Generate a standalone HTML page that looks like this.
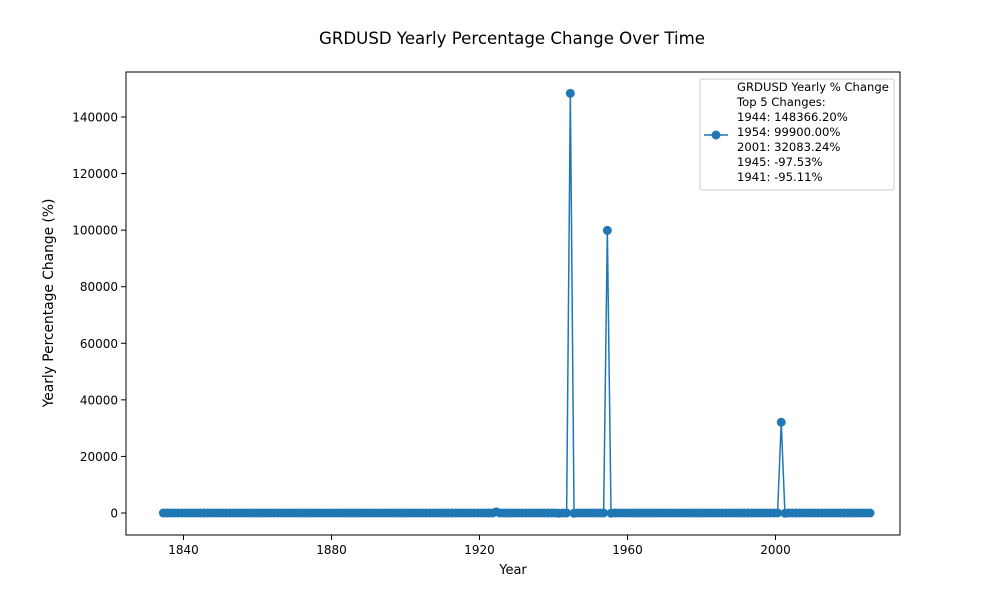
<!DOCTYPE html>
<html><head><meta charset="utf-8"><style>
body{margin:0;background:#fff;font-family:"Liberation Sans","DejaVu Sans",sans-serif}
svg text{font-family:"DejaVu Sans","Liberation Sans",sans-serif}
</style></head><body>
<svg id="chart" width="1000" height="600" viewBox="0 0 1000 600" xmlns="http://www.w3.org/2000/svg">
<rect width="1000" height="600" fill="#fff"/>
<text x="512" y="44" font-size="16.6" text-anchor="middle">GRDUSD Yearly Percentage Change Over Time</text>
<g id="plot"></g>
<rect x="126" y="72" width="774" height="463" fill="none" stroke="#000" stroke-width="1"/>
<text x="513" y="574" font-size="13" text-anchor="middle">Year</text>
<text transform="translate(53,303) rotate(-90)" font-size="13.8" text-anchor="middle">Yearly Percentage Change (%)</text>
<g>
<rect x="700" y="79" width="194" height="111" fill="#fff" stroke="#ccc" rx="2"/>
<line x1="704" y1="135" x2="728" y2="135" stroke="#1f77b4" stroke-width="1.5"/>
<circle cx="716" cy="135" r="4.5" fill="#1f77b4"/>
<text x="737" y="91" font-size="11.6">GRDUSD Yearly % Change</text>
<text x="737" y="106" font-size="11.6">Top 5 Changes:</text>
<text x="737" y="121" font-size="11.6">1944: 148366.20%</text>
<text x="737" y="136" font-size="11.6">1954: 99900.00%</text>
<text x="737" y="151" font-size="11.6">2001: 32083.24%</text>
<text x="737" y="166" font-size="11.6">1945: -97.53%</text>
<text x="737" y="181" font-size="11.6">1941: -95.11%</text>
</g>
</svg>
<script>
const startYear = 1834;
const values = [
0,0,0,0,0,0,0,0,0,0, 0,0,0,0,0,0,0,0,0,0,
0,0,0,0,0,0,0,0,0,0, 0,0,0,0,0,0,0,0,0,0,
0,0,0,0,0,0,0,0,0,0, 0,0,0,0,0,0,0,0,0,0,
0,0,0,0,0,0,0,0,0,0, 0,0,0,0,0,0,0,0,0,0,
0,0,0,0,0,0,0,0,0,0, 400,0,0,0,0,0,0,0,0,0,
0,0,0,0,0,0,0,-95.11,0,0, 148366.2,-97.53,0,0,0,0,0,0,0,0,
99900,-90,0,0,0,0,0,0,0,0, 0,0,0,0,0,0,0,0,0,0,
0,0,0,0,0,0,0,0,0,0, 0,0,0,0,0,0,0,0,0,0,
0,0,0,0,0,0,0,32083.24,-90,0, 0,0,0,0,0,0,0,0,0,0,
0,0,0,0,0,0,0,0,0,0, 0,0
];
const xTicks = [1840,1880,1920,1960,2000];
const yTicks = [0,20000,40000,60000,80000,100000,120000,140000];
const NS="http://www.w3.org/2000/svg";
const xs = y => 183.5 + (y-1840)*3.7;
const ys = v => 513 - v*(396/140000);
const svg=document.getElementById('chart');
const plot=document.getElementById('plot');
function mk(t,a){const e=document.createElementNS(NS,t);for(const k in a)e.setAttribute(k,a[k]);return e;}
xTicks.forEach(t=>{
  const g=mk('g',{});
  
  
  g.appendChild(mk('line',{x1:xs(t),x2:xs(t),y1:535,y2:540,stroke:'#000'}));
  const tx=mk('text',{x:xs(t),y:554,'font-size':12,'text-anchor':'middle'});tx.textContent=t;g.appendChild(tx);
  svg.appendChild(g);
});
yTicks.forEach(t=>{
  const g=mk('g',{});
  
  
  g.appendChild(mk('line',{x1:121,x2:126,y1:ys(t),y2:ys(t),stroke:'#000'}));
  const tx=mk('text',{x:118,y:ys(t)+4.5,'font-size':12,'text-anchor':'end'});tx.textContent=t;g.appendChild(tx);
  svg.appendChild(g);
});
const px = y => xs(y + 0.55);
const pts=values.map((v,i)=>px(startYear+i)+','+ys(v)).join(' ');
const line=mk('polyline',{points:pts,fill:'none',stroke:'#1f77b4','stroke-width':1.5});


plot.appendChild(line);
values.forEach((v,i)=>{
  const c=mk('circle',{cx:px(startYear+i),cy:ys(v),r:4.5,fill:'#1f77b4'});
  
  
  plot.appendChild(c);
});
</script>
</body></html>
